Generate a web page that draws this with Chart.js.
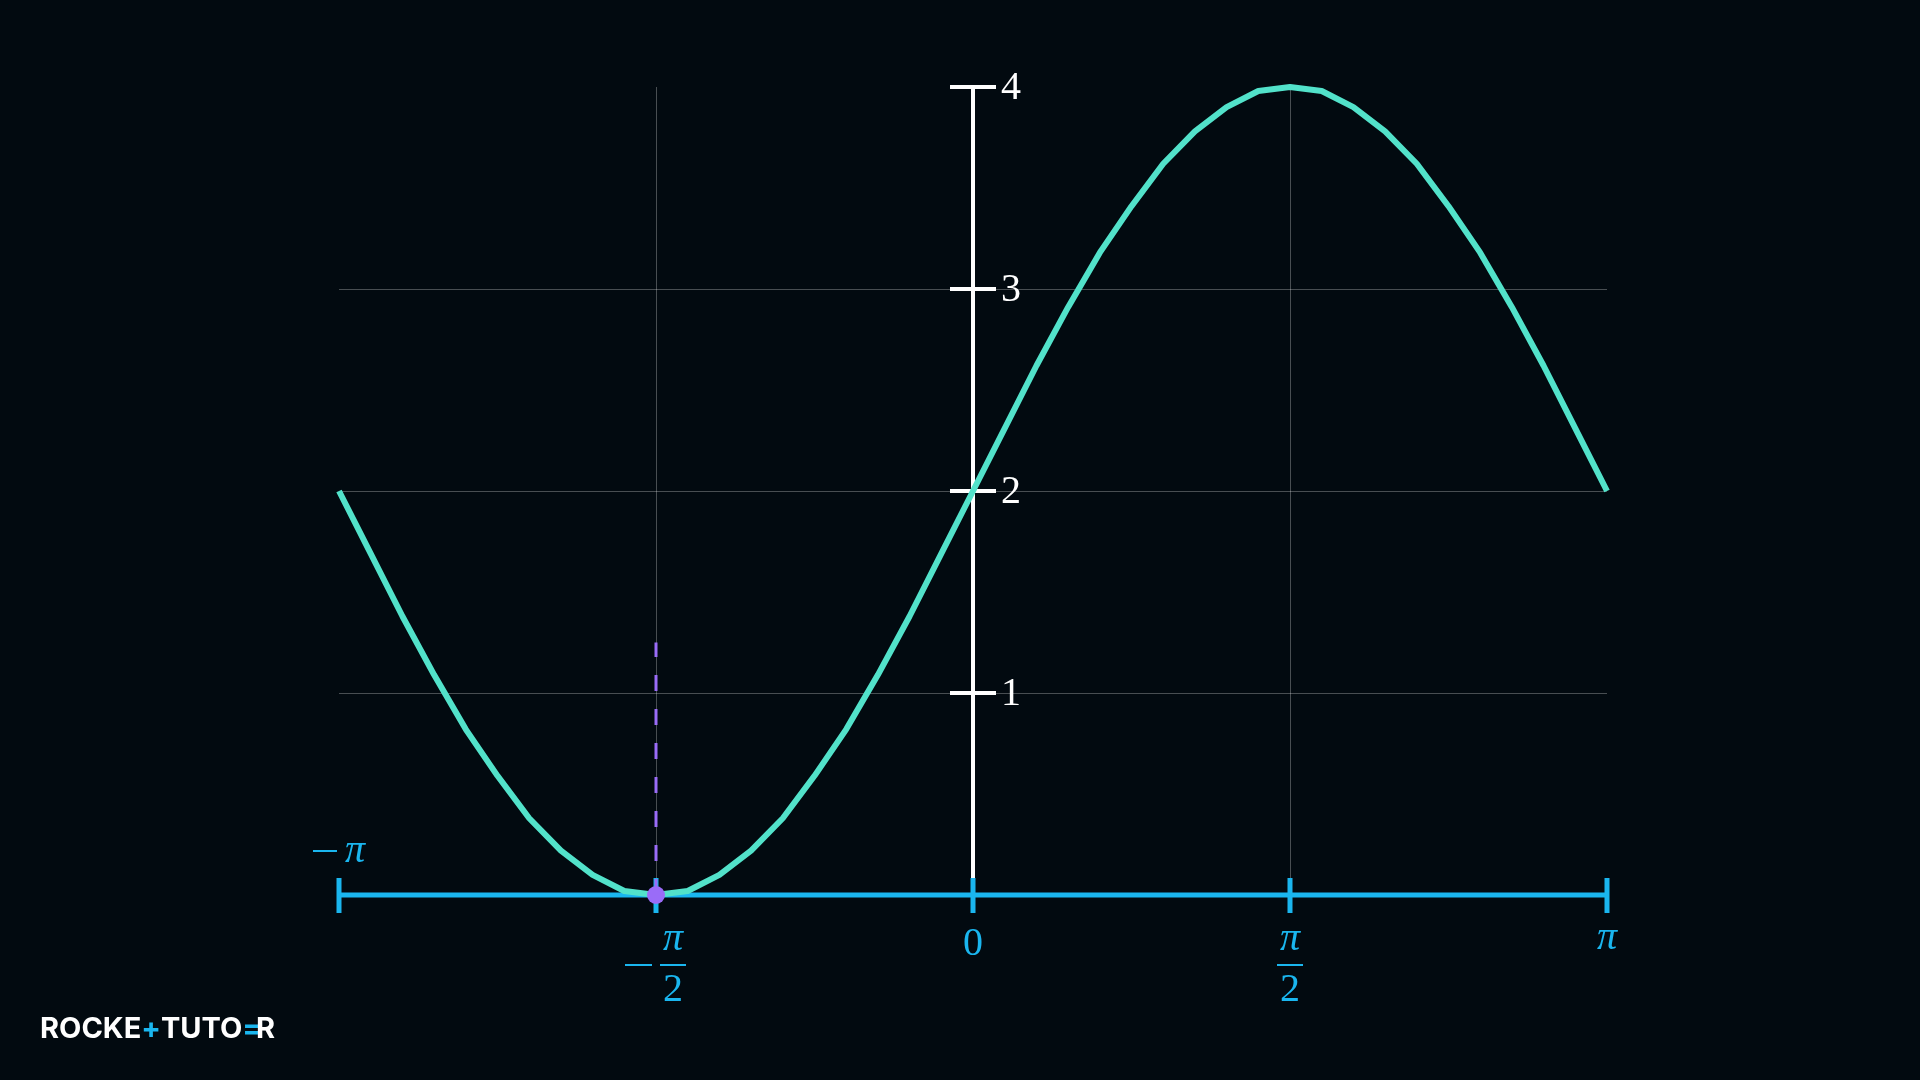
<!DOCTYPE html>
<html lang="en">
<head>
  <meta charset="UTF-8">
  <title>y = 2 + 2 sin x</title>
  <script src="https://cdn.jsdelivr.net/npm/chart.js"></script>
  <style>
    html, body { margin: 0; padding: 0; background: #020a10; overflow: hidden; }
    #wrap { width: 1920px; height: 1080px; }
  </style>
</head>
<body>
  <div id="wrap"><canvas id="sinChart" width="1920" height="1080"></canvas></div>

  <script>
    // curve samples (x in radians)
    const xValues = [
      -3.1416, -2.9845, -2.8274, -2.6704, -2.5133, -2.3562, -2.1991, -2.0420, -1.8850, -1.7279,
      -1.5708, -1.4137, -1.2566, -1.0996, -0.9425, -0.7854, -0.6283, -0.4712, -0.3142, -0.1571,
      0,
      0.1571, 0.3142, 0.4712, 0.6283, 0.7854, 0.9425, 1.0996, 1.2566, 1.4137, 1.5708,
      1.7279, 1.8850, 2.0420, 2.1991, 2.3562, 2.5133, 2.6704, 2.8274, 2.9845, 3.1416
    ];
    const yValues = [
      2.00, 1.69, 1.38, 1.09, 0.82, 0.59, 0.38, 0.22, 0.10, 0.02,
      0.00, 0.02, 0.10, 0.22, 0.38, 0.59, 0.82, 1.09, 1.38, 1.69,
      2.00,
      2.31, 2.62, 2.91, 3.18, 3.41, 3.62, 3.78, 3.90, 3.98, 4.00,
      3.98, 3.90, 3.78, 3.62, 3.41, 3.18, 2.91, 2.62, 2.31, 2.00
    ];

    // marked minimum and its dashed guide
    const markX = [-1.5708];
    const markY = [0];
    const guideY = [0, 1.25];

    // axis ticks
    const xTickValues = [-3.1416, -1.5708, 0, 1.5708, 3.1416];
    const xTickLabels = ['−π', '−π/2', '0', 'π/2', 'π'];
    const yTickValues = [1, 2, 3, 4];
    const yTickLabels = ['1', '2', '3', '4'];
    const xGridValues = [-1.5708, 1.5708];
    const yGridValues = [1, 2, 3];

    const BG = '#020a10';
    const CURVE = '#52e2ca';
    const BLUE = '#1ab6ef';
    const PURPLE = '#9a6cf8';
    const FONT = '"Liberation Serif", "DejaVu Serif", serif';

    // draws a short math string: π in italic, minus as a wide bar, the rest upright
    function mathText(ctx, str, cx, cy, size) {
      const runs = str.split(/(π|−)/).filter(s => s.length);
      const fontOf = s => (s === 'π' ? 'italic ' : '') + size + 'px ' + FONT;
      const widthOf = s => {
        if (s === '−') return 32;
        ctx.font = fontOf(s);
        return ctx.measureText(s).width;
      };
      let w = 0;
      runs.forEach(s => { w += widthOf(s); });
      let px = cx - w / 2;
      ctx.textAlign = 'left';
      ctx.textBaseline = 'middle';
      runs.forEach(s => {
        if (s === '−') {
          ctx.fillRect(px, cy - 1, 24, 2);
        } else {
          ctx.font = fontOf(s);
          ctx.fillText(s, px, cy);
        }
        px += widthOf(s);
      });
    }

    function fraction(ctx, num, den, cx, y0, size) {
      mathText(ctx, num, cx, y0 + 44, size);
      ctx.fillRect(cx - 13, y0 + 69, 26, 2);
      mathText(ctx, den, cx, y0 + 95, size);
    }

    const numberLines = {
      id: 'numberLines',
      beforeDatasetsDraw(chart) {
        const { ctx, scales: { x, y } } = chart;
        const x0 = x.getPixelForValue(0);
        const y0 = y.getPixelForValue(0);
        ctx.save();

        // vertical axis (white)
        ctx.strokeStyle = '#ffffff';
        ctx.fillStyle = '#ffffff';
        ctx.lineWidth = 4;
        ctx.beginPath();
        ctx.moveTo(x0, y.getPixelForValue(4));
        ctx.lineTo(x0, y0);
        ctx.stroke();
        yTickValues.forEach((v, i) => {
          const py = y.getPixelForValue(v);
          ctx.beginPath();
          ctx.moveTo(x0 - 23, py);
          ctx.lineTo(x0 + 23, py);
          ctx.stroke();
          ctx.font = '40px ' + FONT;
          ctx.textAlign = 'left';
          ctx.textBaseline = 'middle';
          ctx.fillText(yTickLabels[i], x0 + 28, py + 1);
        });

        // horizontal axis (blue)
        ctx.strokeStyle = BLUE;
        ctx.fillStyle = BLUE;
        ctx.lineWidth = 5;
        ctx.beginPath();
        ctx.moveTo(x.left, y0);
        ctx.lineTo(x.right, y0);
        ctx.stroke();
        xTickValues.forEach((v, i) => {
          const px = x.getPixelForValue(v);
          ctx.beginPath();
          ctx.moveTo(px, y0 - 17);
          ctx.lineTo(px, y0 + 18);
          ctx.stroke();
          const lab = xTickLabels[i];
          if (i === 0) {
            mathText(ctx, lab, px, y0 - 44, 40);
          } else if (lab.includes('/')) {
            let [num, den] = lab.split('/');
            if (num.startsWith('−')) {
              num = num.slice(1);
              ctx.fillRect(px - 31, y0 + 69, 27, 2);
              fraction(ctx, num, den, px + 17, y0, 40);
            } else {
              fraction(ctx, num, den, px, y0, 40);
            }
          } else {
            mathText(ctx, lab, px, y0 + (lab === 'π' ? 43 : 49), 40);
          }
        });
        ctx.restore();
      },
      afterDraw(chart) {
        const ctx = chart.ctx;
        ctx.save();
        ctx.font = 'bold 29px Inter, Roboto, sans-serif';
        ctx.textAlign = 'left';
        ctx.textBaseline = 'alphabetic';
        const parts = [['ROCKE', '#ffffff'], ['+', BLUE], ['TUTO', '#ffffff'], ['=', BLUE], ['R', '#ffffff']];
        let px = 40;
        parts.forEach(([s, c]) => {
          ctx.fillStyle = c;
          ctx.fillText(s, px, 1038);
          px += ctx.measureText(s).width - (s === '=' ? 6 : 0);
        });
        ctx.restore();
      }
    };

    const bgPlugin = {
      id: 'bg',
      beforeDraw(chart) {
        const ctx = chart.ctx;
        ctx.save();
        ctx.fillStyle = BG;
        ctx.fillRect(0, 0, chart.width, chart.height);
        ctx.restore();
      }
    };

    const ctx = document.getElementById('sinChart').getContext('2d');
    new Chart(ctx, {
      type: 'scatter',
      data: {
        datasets: [
          {
            label: 'min',
            data: markX.map((v, i) => ({ x: v, y: markY[i] })),
            pointRadius: 9,
            pointBackgroundColor: PURPLE,
            pointBorderWidth: 0,
            showLine: false,
            clip: false,
            order: 0
          },
          {
            label: 'guide',
            data: guideY.map(v => ({ x: markX[0], y: v })),
            showLine: true,
            borderColor: PURPLE,
            borderWidth: 3,
            borderDash: [16, 18],
            borderDashOffset: 0,
            pointRadius: 0,
            clip: false,
            order: 1
          },
          {
            label: '2 + 2 sin x',
            data: xValues.map((v, i) => ({ x: v, y: yValues[i] })),
            showLine: true,
            borderColor: CURVE,
            borderWidth: 6,
            borderJoinStyle: 'round',
            tension: 0,
            pointRadius: 0,
            clip: false,
            order: 2
          }
        ]
      },
      options: {
        responsive: false,
        devicePixelRatio: 1,
        animation: false,
        layout: { padding: { left: 339, right: 313, top: 87, bottom: 185 } },
        scales: {
          x: {
            type: 'linear',
            min: -3.1416,
            max: 3.1416,
            afterBuildTicks: s => { s.ticks = xGridValues.map(v => ({ value: v })); },
            afterFit: s => { s.height = 0; },
            ticks: { display: false },
            border: { display: false },
            grid: { color: 'rgba(255,255,255,0.28)', lineWidth: 1, drawTicks: false }
          },
          y: {
            type: 'linear',
            min: 0,
            max: 4,
            afterBuildTicks: s => { s.ticks = yGridValues.map(v => ({ value: v })); },
            afterFit: s => { s.width = 0; },
            ticks: { display: false },
            border: { display: false },
            grid: { color: 'rgba(255,255,255,0.28)', lineWidth: 1, drawTicks: false }
          }
        },
        plugins: {
          legend: { display: false },
          tooltip: { enabled: false }
        }
      },
      plugins: [bgPlugin, numberLines]
    });
  </script>
</body>
</html>
